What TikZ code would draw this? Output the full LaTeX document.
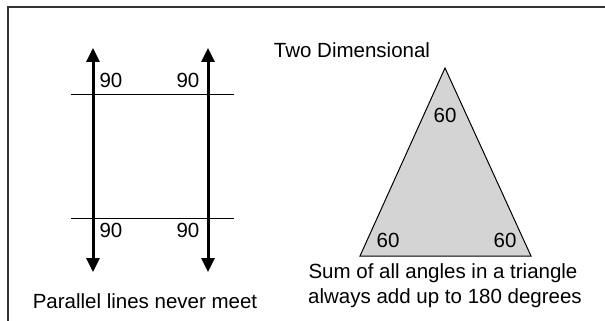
\documentclass[tikz,border=0pt]{standalone}
\usepackage{fontspec}
\setmainfont{Liberation Sans}
\usetikzlibrary{arrows.meta}
\begin{document}
\begin{tikzpicture}[x=1pt,y=-1pt,
  lbl/.style={inner sep=0pt,font=\fontsize{20.5}{25}\selectfont},
  parrow/.style={line width=3pt,{Triangle[width=13pt,length=14pt]}-{Triangle[width=13pt,length=14pt]}},
  thin/.style={line width=1pt},
  frame/.style={line width=1.3pt,draw=black!80}]
\useasboundingbox (0,0) rectangle (605,321);
% frame (open at right and bottom)
\coordinate (fb) at (8,321);
\coordinate (ftl) at (8,7);
\coordinate (ftr) at (605,7);
\draw[frame] (fb) -- (ftl) -- (ftr);
% parallel lines
\coordinate (l1t) at (93,48);
\coordinate (l1b) at (93,272);
\coordinate (l2t) at (208,48);
\coordinate (l2b) at (208,272);
\draw[parrow] (l1t) -- (l1b);
\draw[parrow] (l2t) -- (l2b);
\coordinate (h1a) at (71,94);
\coordinate (h1b) at (234,94);
\coordinate (h2a) at (71,218);
\coordinate (h2b) at (234,218);
\draw[thin] (h1a) -- (h1b);
\draw[thin] (h2a) -- (h2b);
\node[lbl] (n1) at (111,80.5) {90};
\node[lbl] (n2) at (188,80.5) {90};
\node[lbl] (n3) at (111,230) {90};
\node[lbl] (n4) at (188,230) {90};
\node[lbl,anchor=base] (cap1) at (145,308) {Parallel lines never meet};
% triangle
\node[lbl,anchor=base] (title) at (352,58) {Two Dimensional};
\coordinate (ta) at (445,68);
\coordinate (tb) at (360,256);
\coordinate (tc) at (531,256);
\draw[thin,fill=black!17] (ta) -- (tb) -- (tc) -- cycle;
\node[lbl] (a1) at (445,115) {60};
\node[lbl] (a2) at (388,240) {60};
\node[lbl] (a3) at (505,240) {60};
\node[lbl,anchor=base] (cap2) at (443,278) {Sum of all angles in a triangle};
\node[lbl,anchor=base] (cap3) at (445,303) {always add up to 180 degrees};
\end{tikzpicture}
\end{document}
